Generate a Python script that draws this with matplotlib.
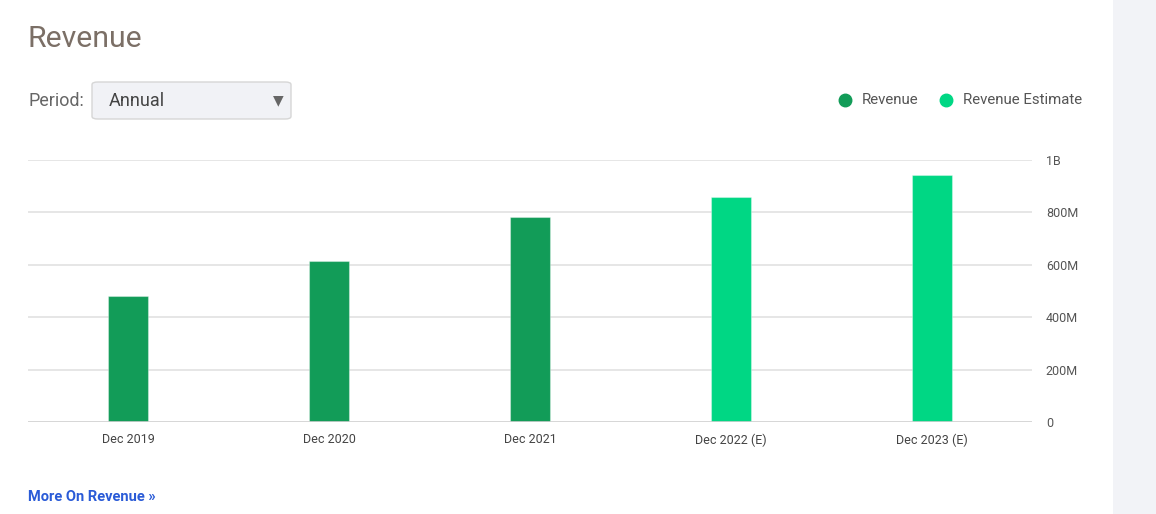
import matplotlib
matplotlib.use("Agg")
import matplotlib.pyplot as plt
from matplotlib.patches import FancyBboxPatch, Rectangle
from matplotlib.lines import Line2D

plt.rcParams['font.family'] = ['Roboto', 'DejaVu Sans']

categories = ["Dec 2019", "Dec 2020", "Dec 2021", "Dec 2022 (E)", "Dec 2023 (E)"]
values = [481e6, 614e6, 782e6, 859e6, 943e6]
is_estimate = [False, False, False, True, True]
y_ticks = [0, 200e6, 400e6, 600e6, 800e6, 1e9]
y_tick_labels = ["0", "200M", "400M", "600M", "800M", "1B"]

W, H = 1156, 514
fig = plt.figure(figsize=(W / 100, H / 100), dpi=100)
fig.patch.set_facecolor("white")

def fx(px):
    return px / W

def fy(py):
    return 1 - py / H

# right gray panel
fig.patches.append(Rectangle((fx(1113), 0), 1 - fx(1113), 1, transform=fig.transFigure,
                             facecolor="#f2f3f7", edgecolor="none", zorder=0))

ax = fig.add_axes([fx(28), fy(422), fx(1032) - fx(28), fy(160) - fy(422)])
ax.set_facecolor("white")

dark = "#129c58"
light = "#00d784"
colors = [light if e else dark for e in is_estimate]
x = list(range(len(categories)))
ax.bar(x, values, width=0.2, color=colors, edgecolor=(1, 1, 1, 0.35), linewidth=0.8, zorder=3)

ax.set_xlim(-0.5, len(categories) - 0.5)
ax.set_ylim(0, 1e9)
ax.set_yticks(y_ticks)
ax.set_yticklabels(y_tick_labels)
ax.yaxis.tick_right()
ax.tick_params(axis="y", length=0, pad=10, labelsize=9, labelcolor="#555555")
ax.set_xticks(x)
ax.set_xticklabels(categories)
ax.tick_params(axis="x", length=0, pad=8, labelsize=9, labelcolor="#444444")
for t in ax.get_yticklabels():
    t.set_horizontalalignment("left")

for yv in y_ticks[1:]:
    ax.axhline(yv, color="#e2e2e2", linewidth=1.2, zorder=1)
ax.axhline(0, color="#d0d0d0", linewidth=1.2, zorder=4)

for s in ax.spines.values():
    s.set_visible(False)

# title
fig.text(fx(28), fy(39), "Revenue", fontsize=21.8, color="#7b6f66", va="center", ha="left")

# period dropdown
fig.text(fx(28), fy(101), "Period:", fontsize=13, color="#666666", va="center", ha="left")
box = FancyBboxPatch((fx(92), fy(119)), fx(291) - fx(92), fy(82) - fy(119),
                     boxstyle="round,pad=0,rounding_size=0.005", transform=fig.transFigure,
                     facecolor="#f1f2f6", edgecolor="#d6d6d6", linewidth=1)
fig.patches.append(box)
fig.text(fx(109), fy(101), "Annual", fontsize=13, color="#444444", va="center", ha="left")
fig.text(fx(278), fy(100), "▼", fontsize=10, color="#666666", va="center", ha="center",
         family=['DejaVu Sans'])

# legend
for cx, col, lab in [(845, dark, "Revenue"), (946, light, "Revenue Estimate")]:
    fig.lines.append(Line2D([fx(cx)], [fy(100)], marker="o", markersize=9, color=col,
                            transform=fig.transFigure, linestyle="none"))
    fig.text(fx(cx + 17), fy(100), lab, fontsize=10.8, color="#555555", va="center", ha="left")

# link
fig.text(fx(28), fy(497), "More On Revenue »", fontsize=10.5, color="#2a5bd7",
         fontweight="bold", va="center", ha="left")

fig.savefig("out.png", dpi=100, facecolor="white")
